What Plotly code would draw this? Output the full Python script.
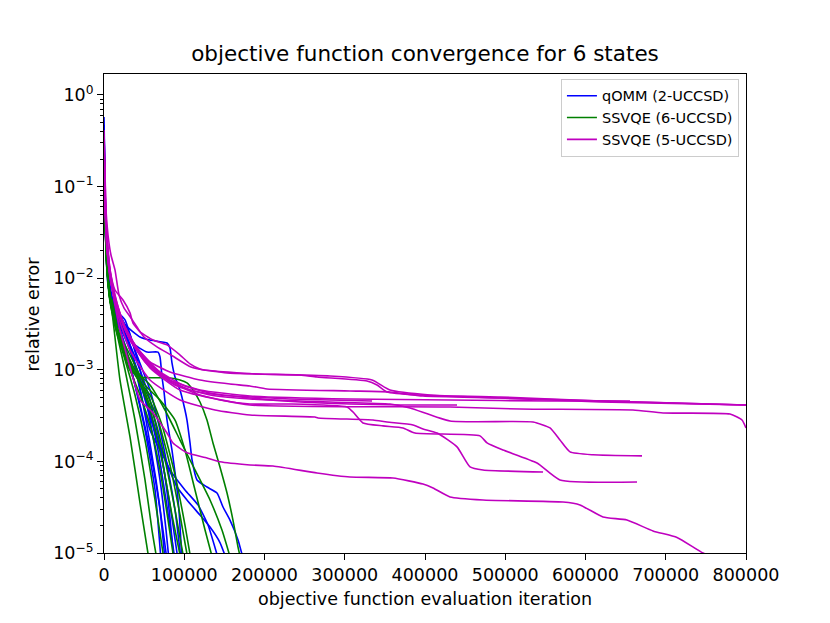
import plotly.graph_objects as go

# ---------------- data: qOMM (2-UCCSD) runs ----------------
qomm_1_iter = [0, 1200, 2500, 5000, 10000, 13700, 26200, 44900, 57300, 78500, 82200, 84700, 88500, 94700, 100900, 103400, 107200, 109700, 115900, 128300, 140800, 148300, 157000, 167000, 173200]
qomm_1_err = [0.575, 0.118, 0.0261, 0.00975, 0.00578, 0.0045, 0.00309, 0.00228, 0.00211, 0.00196, 0.00173, 0.00119, 8.34e-4, 6.02e-4, 3.64e-4, 2.83e-4, 1.59e-4, 1.04e-4, 6.27e-5, 5.25e-5, 4.52e-5, 3.18e-5, 2.29e-5, 1.39e-5, 8.8e-6]
qomm_2_iter = [0, 1200, 3700, 7500, 13700, 26200, 38600, 53600, 67300, 69800, 72300, 74800, 78500, 84700, 89700, 93400, 97200]
qomm_2_err = [0.251, 0.0714, 0.0179, 0.00743, 0.00428, 0.00272, 0.00187, 0.00156, 0.00156, 0.00138, 8.34e-4, 5.73e-4, 2.83e-4, 1.33e-4, 6.27e-5, 2.95e-5, 8.4e-6]
qomm_3_iter = [0, 1200, 3700, 7500, 13700, 19900, 32400, 44900, 57300, 69800, 77300, 81000]
qomm_3_err = [0.415, 0.092, 0.0158, 0.00743, 0.0051, 0.00397, 0.0024, 9.95e-4, 2.83e-4, 6.27e-5, 1.78e-5, 8.4e-6]
qomm_4_iter = [0, 1200, 2500, 5000, 10000, 19900, 32400, 44900, 57300, 69800, 76000]
qomm_4_err = [0.323, 0.0714, 0.0203, 0.00843, 0.0051, 0.00272, 0.00113, 4.13e-4, 1.33e-4, 2.95e-5, 8.4e-6]
qomm_5_iter = [0, 1200, 3700, 7500, 13700, 26200, 38600, 51100, 63600, 71000]
qomm_5_err = [0.47, 0.104, 0.0179, 0.00843, 0.00397, 0.00187, 6.83e-4, 2.2e-4, 4.88e-5, 8.4e-6]
qomm_6_iter = [0, 1200, 3700, 7500, 17400, 29900, 44900, 57300, 69800, 79800, 87200]
qomm_6_err = [0.195, 0.0555, 0.014, 0.00656, 0.0035, 0.00211, 9.95e-4, 4.68e-4, 1.51e-4, 3.79e-5, 8.4e-6]
qomm_7_iter = [0, 1200, 3700, 8700, 17400, 32400, 44900, 57300, 69800, 82200, 92200]
qomm_7_err = [0.285, 0.063, 0.0158, 0.00656, 0.00397, 0.00164, 7.74e-4, 3.64e-4, 1.33e-4, 3.35e-5, 8.4e-6]
qomm_8_iter = [0, 1200, 3700, 7500, 15000, 26200, 38600, 57300, 69800, 79800, 88500, 96000]
qomm_8_err = [0.366, 0.081, 0.0179, 0.00743, 0.0045, 0.0035, 0.00164, 6.02e-4, 2.2e-4, 8.07e-5, 2.95e-5, 8.4e-6]
qomm_9_iter = [0, 1200, 3700, 8700, 17400, 32400, 44900, 57300, 76000, 91000, 103400, 119600, 132100, 144500, 152000]
qomm_9_err = [0.251, 0.0555, 0.015, 0.00624, 0.00368, 0.00187, 6.02e-4, 2.2e-4, 1.04e-4, 5.25e-5, 3.79e-5, 2.6e-5, 1.92e-5, 1.3e-5, 8.8e-6]
qomm_10_iter = [0, 1200, 3700, 7500, 15000, 27400, 42400, 54800, 67300, 82200, 100900, 117100, 129600, 142100]
qomm_10_err = [0.323, 0.0714, 0.0166, 0.00707, 0.00428, 0.0024, 8.78e-4, 3.64e-4, 1.71e-4, 8.07e-5, 4.88e-5, 3.35e-5, 2.02e-5, 8.8e-6]
qomm_11_iter = [0, 1200, 3700, 7500, 15000, 27400, 39900, 52300, 64800, 73500, 78500]
qomm_11_err = [0.3, 0.0714, 0.0166, 0.00707, 0.00428, 0.0024, 9.95e-4, 2.83e-4, 6.27e-5, 1.78e-5, 8.4e-6]
qomm_12_iter = [0, 1200, 3700, 8700, 17400, 29900, 42400, 54800, 67300, 77300, 84700, 88500]
qomm_12_err = [0.221, 0.049, 0.013, 0.00578, 0.00333, 0.00187, 9.46e-4, 4.13e-4, 1.33e-4, 3.79e-5, 1.39e-5, 8.4e-6]

# ---------------- data: SSVQE (6-UCCSD) runs ----------------
ssvqe6_1_iter = [0, 1200, 3700, 7500, 10000, 19900, 32400, 44900, 56100]
ssvqe6_1_err = [0.251, 0.0555, 0.014, 0.00578, 0.00428, 7.74e-4, 1.85e-4, 3.51e-5, 8.4e-6]
ssvqe6_2_iter = [0, 1200, 3700, 7500, 13700, 26200, 38600, 51100, 59800, 66000]
ssvqe6_2_err = [0.323, 0.063, 0.015, 0.00609, 0.00309, 9.95e-4, 2.83e-4, 6.27e-5, 1.78e-5, 8.4e-6]
ssvqe6_3_iter = [0, 1200, 3700, 7500, 15000, 26200, 38600, 51100, 63600, 74800]
ssvqe6_3_err = [0.195, 0.049, 0.0123, 0.0055, 0.00272, 0.00128, 5.31e-4, 1.71e-4, 3.79e-5, 8.4e-6]
ssvqe6_4_iter = [0, 1200, 3700, 8700, 17400, 29900, 44900, 57300, 69800, 79800, 87200]
ssvqe6_4_err = [0.251, 0.0555, 0.014, 0.00578, 0.0024, 0.00113, 5.31e-4, 2.5e-4, 8.07e-5, 2.29e-5, 8.4e-6]
ssvqe6_5_iter = [0, 1200, 3700, 7500, 15000, 27400, 42400, 57300, 72300, 84700, 96000]
ssvqe6_5_err = [0.285, 0.063, 0.015, 0.00609, 0.00286, 0.00145, 7.74e-4, 3.64e-4, 1.04e-4, 2.6e-5, 8.4e-6]
ssvqe6_6_iter = [0, 1200, 3700, 8700, 17400, 32400, 47400, 63600, 76000, 88500, 99700]
ssvqe6_6_err = [0.221, 0.0528, 0.013, 0.00537, 0.00259, 0.00128, 6.83e-4, 2.83e-4, 1.04e-4, 2.95e-5, 8.4e-6]
ssvqe6_7_iter = [0, 1200, 3700, 7500, 16200, 32400, 51100, 67300, 82200, 94700, 104700]
ssvqe6_7_err = [0.251, 0.0584, 0.014, 0.00578, 0.00272, 0.00113, 6.02e-4, 2.83e-4, 9.15e-5, 2.6e-5, 8.4e-6]
ssvqe6_8_iter = [0, 1200, 3700, 8700, 19900, 38600, 57300, 72300, 88500, 100900, 108400]
ssvqe6_8_err = [0.195, 0.049, 0.0123, 0.0051, 0.00211, 8.78e-4, 5.31e-4, 2.5e-4, 7.12e-5, 2.02e-5, 8.4e-6]
ssvqe6_9_iter = [0, 1200, 3700, 7500, 17400, 32400, 51100, 69800, 88500, 100900, 113400, 125900, 135800]
ssvqe6_9_err = [0.251, 0.0555, 0.014, 0.00578, 0.00272, 0.00145, 6.83e-4, 4.68e-4, 2.83e-4, 1.33e-4, 4.88e-5, 1.78e-5, 8.4e-6]
ssvqe6_10_iter = [0, 1200, 3700, 8700, 19900, 38600, 57300, 76000, 94700, 113400, 132100, 147000, 158200]
ssvqe6_10_err = [0.221, 0.0528, 0.013, 0.00537, 0.00223, 9.95e-4, 6.83e-4, 3.64e-4, 1.71e-4, 8.07e-5, 3.79e-5, 1.78e-5, 8.4e-6]
ssvqe6_11_iter = [0, 1200, 3700, 7500, 10000, 19900, 32400, 44900, 82200, 94700, 103400, 110900, 119600, 128300, 135800, 144500, 153300, 160700, 167000, 172000]
ssvqe6_11_err = [0.285, 0.063, 0.015, 0.00624, 0.00578, 0.00211, 9.95e-4, 8.34e-4, 8.14e-4, 7.74e-4, 7.18e-4, 6.02e-4, 4.45e-4, 2.83e-4, 1.59e-4, 8.7e-5, 4.52e-5, 2.29e-5, 1.16e-5, 7.4e-6]

# ---------------- data: SSVQE (5-UCCSD) runs ----------------
ssvqe5_1_iter = [0, 1200, 2500, 5000, 8700, 13700, 18700, 24900, 33600, 41100, 49800, 66000, 83500, 108400, 124600, 186900, 244200, 265400, 327700, 340200, 352600, 390000, 493500, 618100, 800000]
ssvqe5_1_err = [0.415, 0.152, 0.0555, 0.0296, 0.0179, 0.0123, 0.00656, 0.00474, 0.00368, 0.00293, 0.00228, 0.00178, 0.00145, 0.00107, 9.95e-4, 9.0e-4, 8.78e-4, 8.34e-4, 7.55e-4, 6.83e-4, 5.73e-4, 5.31e-4, 5.05e-4, 4.56e-4, 4.13e-4]
ssvqe5_2_iter = [0, 1200, 3700, 7500, 13700, 22400, 38600, 57300, 82200, 119600, 157000, 181900, 203100, 306500, 356400, 397500, 493500, 618100, 800000]
ssvqe5_2_err = [0.251, 0.092, 0.0296, 0.0123, 0.00656, 0.0035, 0.00187, 0.00122, 9.46e-4, 7.74e-4, 7.0e-4, 6.66e-4, 6.18e-4, 5.87e-4, 5.73e-4, 5.18e-4, 4.92e-4, 4.45e-4, 4.13e-4]
ssvqe5_3_iter = [0, 1200, 3700, 7500, 15000, 26200, 44900, 69800, 107200, 144500, 181900, 231800, 281600, 334000]
ssvqe5_3_err = [0.221, 0.0714, 0.0231, 0.0108, 0.0051, 0.00272, 0.00145, 8.78e-4, 6.02e-4, 5.31e-4, 5.05e-4, 4.8e-4, 4.68e-4, 4.56e-4]
ssvqe5_4_iter = [0, 1200, 3700, 7500, 15000, 27400, 44900, 69800, 100900, 132100, 181900, 244200, 306500, 368800, 439900]
ssvqe5_4_err = [0.285, 0.092, 0.0261, 0.0117, 0.00578, 0.00272, 0.00156, 9.46e-4, 6.66e-4, 5.58e-4, 4.92e-4, 4.45e-4, 4.23e-4, 4.13e-4, 4.13e-4]
ssvqe5_5_iter = [0, 1200, 3700, 7500, 15000, 29900, 51100, 82200, 119600, 181900, 306500, 431200, 555800, 655500]
ssvqe5_5_err = [0.251, 0.081, 0.0248, 0.0112, 0.00523, 0.0024, 0.00128, 7.74e-4, 6.02e-4, 5.18e-4, 4.8e-4, 4.68e-4, 4.56e-4, 4.56e-4]
ssvqe5_6_iter = [0, 1200, 3700, 8700, 17400, 32400, 57300, 88500, 132100, 181900, 281600, 356400, 381300, 431200, 534600, 555800, 568200, 580700, 609300, 670400]
ssvqe5_6_err = [0.195, 0.063, 0.0203, 0.00927, 0.0045, 0.00211, 0.00113, 6.83e-4, 5.31e-4, 4.8e-4, 4.45e-4, 4.23e-4, 3.83e-4, 2.76e-4, 2.69e-4, 2.32e-4, 1.71e-4, 1.27e-4, 1.18e-4, 1.15e-4]
ssvqe5_7_iter = [0, 1200, 3700, 7500, 16200, 32400, 57300, 94700, 144500, 181900, 231800, 302800, 310300, 322700, 347700, 372600, 387500, 468500, 477300, 497200, 539600, 568200, 664200]
ssvqe5_7_err = [0.251, 0.075, 0.0231, 0.0101, 0.00474, 0.00211, 0.00105, 6.02e-4, 4.68e-4, 4.23e-4, 4.23e-4, 3.92e-4, 3.46e-4, 2.63e-4, 2.44e-4, 2.32e-4, 2.04e-4, 1.9e-4, 1.59e-4, 1.33e-4, 9.6e-5, 6.27e-5, 5.95e-5]
ssvqe5_8_iter = [0, 1200, 3700, 8700, 17400, 32400, 57300, 94700, 138300, 181900, 262900, 266700, 335200, 352600, 385000, 397500, 415000, 439900, 456100, 472300, 547100]
ssvqe5_8_err = [0.221, 0.0714, 0.0214, 0.00904, 0.00397, 0.00164, 7.74e-4, 4.68e-4, 3.64e-4, 3.21e-4, 3.05e-4, 2.98e-4, 2.83e-4, 2.69e-4, 2.5e-4, 2.26e-4, 2.04e-4, 1.44e-4, 8.7e-5, 8.07e-5, 7.66e-5]
ssvqe5_9_iter = [0, 1200, 3700, 7500, 15000, 29900, 51100, 82200, 119600, 181900, 431200, 518400, 659200, 696600, 780100, 795000, 800000]
ssvqe5_9_err = [0.285, 0.0873, 0.0261, 0.0117, 0.0055, 0.0024, 0.00122, 7.36e-4, 5.31e-4, 4.13e-4, 3.92e-4, 3.73e-4, 3.64e-4, 3.38e-4, 3.29e-4, 2.83e-4, 2.32e-4]
ssvqe5_10_iter = [0, 1200, 3700, 7500, 13700, 19900, 29900, 38600, 44900, 61100, 78500, 86000, 103400, 128300, 144500, 181900, 210600, 265400, 306500, 360100, 397500, 410000, 431200, 472300, 572000, 593100, 621800, 651700, 684100, 714000, 746400, 767600]
ssvqe5_10_err = [0.251, 0.081, 0.0261, 0.0108, 0.0051, 0.00272, 0.00128, 6.83e-4, 4.68e-4, 3.38e-4, 2.04e-4, 1.59e-4, 1.24e-4, 1.09e-4, 9.9e-5, 9.15e-5, 8.9e-5, 7.47e-5, 6.75e-5, 6.58e-5, 5.66e-5, 5.12e-5, 4.09e-5, 3.79e-5, 3.6e-5, 3.35e-5, 2.47e-5, 2.29e-5, 1.74e-5, 1.48e-5, 1.0e-5, 8.4e-6]
ssvqe5_11_iter = [0, 1200, 2500, 5000, 8700, 13700, 23700, 32400, 36100, 44900, 61100, 78500, 94700, 107200, 119600, 153300, 194400, 281600, 334000, 356400, 406200, 493500, 800000]
ssvqe5_11_err = [0.366, 0.134, 0.049, 0.0203, 0.0108, 0.00743, 0.00578, 0.00418, 0.00324, 0.00259, 0.00211, 0.00187, 0.00145, 0.00116, 0.00102, 9.23e-4, 9.0e-4, 8.56e-4, 7.74e-4, 6.02e-4, 5.31e-4, 4.92e-4, 4.13e-4]

# ---------------- axis ticks ----------------
x_tick_vals = [0, 100000, 200000, 300000, 400000, 500000, 600000, 700000, 800000]
x_tick_text = ["0", "100000", "200000", "300000", "400000", "500000", "600000", "700000", "800000"]
y_tick_vals = [1e-5, 1e-4, 1e-3, 1e-2, 1e-1, 1e0]
y_tick_text = ["10<sup>\u22125</sup>", "10<sup>\u22124</sup>", "10<sup>\u22123</sup>",
               "10<sup>\u22122</sup>", "10<sup>\u22121</sup>", "10<sup>0</sup>"]
y_minor_vals = [m * 10.0 ** e for e in range(-5, 1) for m in range(2, 10)]

groups = [
    ("qOMM (2-UCCSD)", "#0000ff", [
        (qomm_1_iter, qomm_1_err), (qomm_2_iter, qomm_2_err), (qomm_3_iter, qomm_3_err),
        (qomm_4_iter, qomm_4_err), (qomm_5_iter, qomm_5_err), (qomm_6_iter, qomm_6_err),
        (qomm_7_iter, qomm_7_err), (qomm_8_iter, qomm_8_err), (qomm_9_iter, qomm_9_err),
        (qomm_10_iter, qomm_10_err), (qomm_11_iter, qomm_11_err), (qomm_12_iter, qomm_12_err)]),
    ("SSVQE (6-UCCSD)", "#008000", [
        (ssvqe6_1_iter, ssvqe6_1_err), (ssvqe6_2_iter, ssvqe6_2_err), (ssvqe6_3_iter, ssvqe6_3_err),
        (ssvqe6_4_iter, ssvqe6_4_err), (ssvqe6_5_iter, ssvqe6_5_err), (ssvqe6_6_iter, ssvqe6_6_err),
        (ssvqe6_7_iter, ssvqe6_7_err), (ssvqe6_8_iter, ssvqe6_8_err), (ssvqe6_9_iter, ssvqe6_9_err),
        (ssvqe6_10_iter, ssvqe6_10_err), (ssvqe6_11_iter, ssvqe6_11_err)]),
    ("SSVQE (5-UCCSD)", "#bf00bf", [
        (ssvqe5_1_iter, ssvqe5_1_err), (ssvqe5_2_iter, ssvqe5_2_err), (ssvqe5_3_iter, ssvqe5_3_err),
        (ssvqe5_4_iter, ssvqe5_4_err), (ssvqe5_5_iter, ssvqe5_5_err), (ssvqe5_6_iter, ssvqe5_6_err),
        (ssvqe5_7_iter, ssvqe5_7_err), (ssvqe5_8_iter, ssvqe5_8_err), (ssvqe5_9_iter, ssvqe5_9_err),
        (ssvqe5_10_iter, ssvqe5_10_err), (ssvqe5_11_iter, ssvqe5_11_err)]),
]

FONT = "DejaVu Sans, Liberation Sans, sans-serif"

fig = go.Figure()
for name, color, runs in groups:
    for i, (xs, ys) in enumerate(runs):
        fig.add_trace(go.Scatter(
            x=xs, y=ys, mode="lines", name=name, legendgroup=name,
            showlegend=(i == 0),
            line=dict(color=color, width=1.6, shape="spline", smoothing=0.5),
            hoverinfo="skip"))

axis_common = dict(showline=True, mirror=True, linecolor="black", linewidth=1,
                   showgrid=False, zeroline=False, ticks="outside", ticklen=6,
                   tickwidth=1, tickcolor="black",
                   tickfont=dict(family=FONT, size=17.5, color="black"))

# the page body adds an 8 px offset, so the margins are shifted by 8 px
fig.update_layout(
    width=830, height=623,
    margin=dict(l=96, r=92, t=66, b=78),
    paper_bgcolor="white", plot_bgcolor="white",
    font=dict(family=FONT, color="black"),
    title=dict(text="objective function convergence for 6 states",
               font=dict(family=FONT, size=21.5, color="black"),
               x=0.5, xref="paper", xanchor="center",
               y=1 - 45 / 623, yref="container", yanchor="middle"),
    xaxis=dict(range=[0, 800000], tickmode="array", tickvals=x_tick_vals,
               ticktext=x_tick_text, **axis_common),
    yaxis=dict(type="log", range=[-5, 0.229], tickmode="array",
               tickvals=y_tick_vals, ticktext=y_tick_text,
               minor=dict(ticks="outside", ticklen=3.5, tickwidth=0.8,
                          tickcolor="black", tickvals=y_minor_vals, showgrid=False),
               **axis_common),
    legend=dict(x=0.989, y=0.99, xanchor="right", yanchor="top",
                bgcolor="rgba(255,255,255,0.8)", bordercolor="#cccccc", borderwidth=1,
                font=dict(family=FONT, size=14.5, color="black"),
                itemwidth=30, tracegroupgap=0),
    annotations=[
        dict(text="objective function evaluation iteration", xref="paper", yref="paper",
             x=0.5, y=-0.095, xanchor="center", yanchor="middle", showarrow=False,
             font=dict(family=FONT, size=17.5, color="black")),
        dict(text="relative error", xref="paper", yref="paper",
             x=-0.1106, y=0.5, xanchor="center", yanchor="middle", textangle=-90,
             showarrow=False, font=dict(family=FONT, size=17.5, color="black")),
    ],
)

fig.write_html("out.html")
